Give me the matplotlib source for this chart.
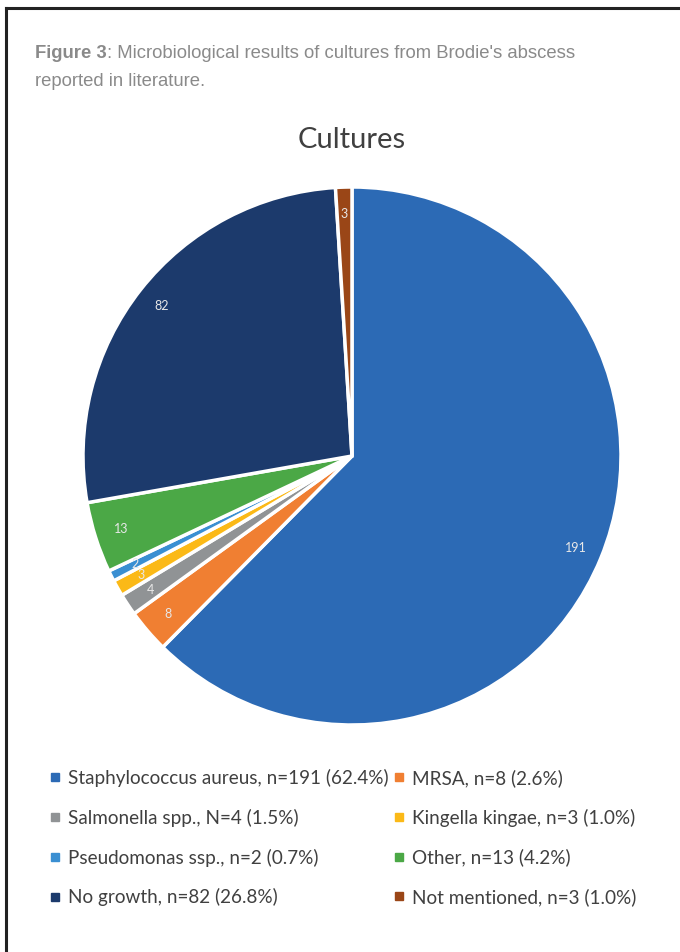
import matplotlib.pyplot as plt
from matplotlib.lines import Line2D

names = ["Staphylococcus aureus, n=191 (62.4%)", "MRSA, n=8 (2.6%)",
         "Salmonella spp., N=4 (1.5%)", "Kingella kingae, n=3 (1.0%)",
         "Pseudomonas ssp., n=2 (0.7%)", "Other, n=13 (4.2%)",
         "No growth, n=82 (26.8%)", "Not mentioned, n=3 (1.0%)"]
counts = [191, 8, 4, 3, 2, 13, 82, 3]
colors = ["#2c6ab5", "#f07f32", "#909395", "#fbb917",
          "#3a8fd2", "#4ba846", "#1c3a6c", "#9a4617"]

fig = plt.figure(figsize=(6.8, 9.52), dpi=100)

# frame lines (top and left)
fig.add_artist(Line2D([6/680, 1], [1 - 8/952, 1 - 8/952], color="#222222", lw=2.2))
fig.add_artist(Line2D([6/680, 6/680], [0, 1 - 8/952], color="#222222", lw=2.2))

# caption
cap_col = "#8a8a8a"
t = fig.text(35/680, 1 - 53/952, "Figure 3", family="Liberation Sans", fontweight="bold",
             fontsize=13.3, color=cap_col, va="center")
fig.canvas.draw()
bb = t.get_window_extent()
fig.text(bb.x1 / 680, 1 - 53/952, ": Microbiological results of cultures from Brodie's abscess",
         family="Liberation Sans", fontsize=13.3, color=cap_col, va="center")
fig.text(35/680, 1 - 81/952, "reported in literature.", family="Liberation Sans",
         fontsize=13.3, color=cap_col, va="center")

fig.text(352/680, 1 - 140/952, "Cultures", family="Lato", fontsize=21,
         color="#404040", ha="center", va="center")

cx, cy, r = 352, 456, 269
ax = fig.add_axes([(cx - r)/680, (952 - cy - r)/952, 2*r/680, 2*r/952])
wedges, texts = ax.pie(counts, colors=colors, startangle=90, counterclock=False,
                       labels=[str(c) for c in counts], labeldistance=0.9,
                       wedgeprops=dict(edgecolor="white", linewidth=2.5),
                       textprops=dict(color="#e8e8e8", fontsize=9, family="Lato",
                                      ha="center", va="center"))
ax.set_xlim(-1, 1)
ax.set_ylim(-1, 1)
ax.set_aspect("equal")
ax.axis("off")

# legend, row-major order
order = [0, 2, 4, 6, 1, 3, 5, 7]
handles = [Line2D([], [], marker="s", ls="none", markersize=5.5,
                  markerfacecolor=colors[i], markeredgecolor=colors[i]) for i in order]
labels = [names[i] for i in order]
fig.legend(handles, labels, ncol=2, loc="upper left",
           bbox_to_anchor=(50/680, 1 - 769/952), frameon=False,
           prop=dict(family="Lato", size=13.6), labelcolor="#404040",
           handlelength=0.5, handletextpad=0.45, columnspacing=0.3,
           labelspacing=1.15, borderpad=0, borderaxespad=0)

fig.savefig("out.png", dpi=100)
